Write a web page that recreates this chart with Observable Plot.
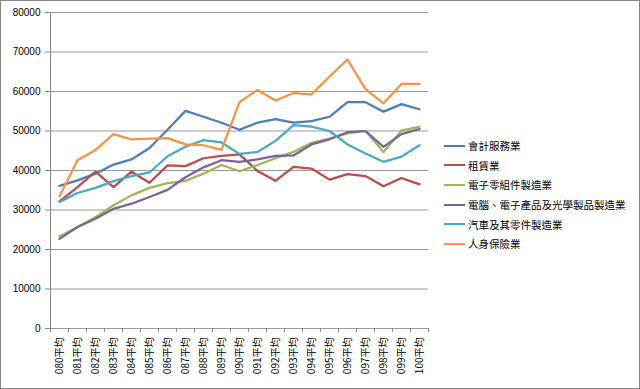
<!DOCTYPE html>
<html>
<head>
<meta charset="utf-8">
<script src="https://cdn.jsdelivr.net/npm/d3@7"></script>
<script src="https://cdn.jsdelivr.net/npm/@observablehq/plot@0.6"></script>
<style>
  html, body { margin: 0; padding: 0; background: #fff; }
  #wrap { position: relative; width: 640px; height: 389px; overflow: hidden; background: #fff; }
  #border { position: absolute; left: 0; top: 0; width: 640px; height: 389px; box-sizing: border-box; border: 1px solid #868686; pointer-events: none; }
  #legend { position: absolute; left: 444px; top: 136px; font-family: "Noto Sans CJK TC", "Liberation Sans", sans-serif; font-size: 10.5px; color: #000; }
  .item { display: flex; align-items: center; height: 19.6px; white-space: nowrap; }
  .sw { width: 21px; height: 2px; margin-right: 3px; }
</style>
</head>
<body>
<div id="wrap"><div id="chart"></div><div id="legend"></div><div id="border"></div></div>
<script>
const categories = ["080平均","081平均","082平均","083平均","084平均","085平均","086平均","087平均","088平均","089平均","090平均","091平均","092平均","093平均","094平均","095平均","096平均","097平均","098平均","099平均","100平均"];
const seriesNames = ["會計服務業","租賃業","電子零組件製造業","電腦、電子產品及光學製品製造業","汽車及其零件製造業","人身保險業"];
const seriesColors = ["#4A7EBB","#BE4B48","#98B954","#7D60A0","#46AAC5","#F69240"];
const accounting = [36100,37500,39200,41500,42800,45700,50300,55100,53600,52100,50300,52100,53000,52100,52500,53600,57300,57300,54900,56800,55500];
const leasing = [32200,35800,39700,35800,39700,36900,41300,41100,43100,43700,44100,39900,37400,40900,40500,37700,39100,38600,36000,38100,36500];
const components = [23300,25700,28200,31200,33700,35600,36800,37400,39200,41400,39800,41400,43100,44700,47000,48100,49400,50000,44700,50100,51100];
const computers = [22700,25700,27800,30300,31600,33300,35100,38300,40800,42600,42200,42800,43700,43800,46600,47900,49700,50000,46000,49200,50500];
const automotive = [32000,34300,35600,37300,38600,39500,43600,46000,47700,47100,44200,44700,47500,51500,51100,50000,46600,44300,42200,43500,46400];
const lifeInsurance = [33500,42600,45200,49200,47900,48100,48200,46600,46400,45200,57300,60400,57700,59600,59300,63800,68100,60600,57000,61900,61900];
const yTicks = [0,10000,20000,30000,40000,50000,60000,70000,80000];

const allValues = [accounting, leasing, components, computers, automotive, lifeInsurance];
const data = seriesNames.flatMap((s, k) => allValues[k].map((v, i) => ({cat: categories[i], value: v, series: s})));

const W = 640, H = 389, mL = 49, mR = 212, mT = 12, mB = 61;
const half = (W - mL - mR) / categories.length / 2;
const font = "'Liberation Sans', 'Noto Sans CJK TC', sans-serif";

const chart = Plot.plot({
  width: W, height: H,
  marginLeft: mL, marginRight: mR, marginTop: mT, marginBottom: mB,
  style: {fontFamily: font, fontSize: "10px", color: "#000", background: "#fff"},
  x: {type: "band", domain: categories, padding: 0, label: null},
  y: {domain: [0, 80000], label: null},
  color: {domain: seriesNames, range: seriesColors},
  marks: [
    Plot.gridY(yTicks, {stroke: "#999", strokeOpacity: 1}),
    Plot.ruleX([categories[0]], {y1: 0, y2: 80000, dx: -half, stroke: "#868686"}),
    Plot.ruleX(categories, {y1: 0, y2: 0, insetBottom: -4, dx: -half, stroke: "#868686"}),
    Plot.ruleX([categories[categories.length - 1]], {y1: 0, y2: 0, insetBottom: -4, dx: half, stroke: "#868686"}),
    Plot.axisY({ticks: yTicks, tickSize: 4, tickPadding: 5, tickFormat: d3.format("d"), stroke: "#868686", fontSize: 10, fill: "#000", label: null}),
    Plot.axisX({tickSize: 0, tickPadding: 9, tickRotate: -90, fontSize: 10, fill: "#000", fontFamily: "'Noto Sans CJK TC', sans-serif", label: null}),
    Plot.line(data, {x: "cat", y: "value", z: "series", stroke: "series", strokeWidth: 2.25, strokeLinejoin: "round", strokeLinecap: "round"})
  ]
});
document.getElementById("chart").appendChild(chart);

const legend = document.getElementById("legend");
seriesNames.forEach((s, k) => {
  const item = document.createElement("div");
  item.className = "item";
  const sw = document.createElement("span");
  sw.className = "sw";
  sw.style.background = seriesColors[k];
  const t = document.createElement("span");
  t.textContent = s;
  item.appendChild(sw);
  item.appendChild(t);
  legend.appendChild(item);
});
</script>
</body>
</html>
